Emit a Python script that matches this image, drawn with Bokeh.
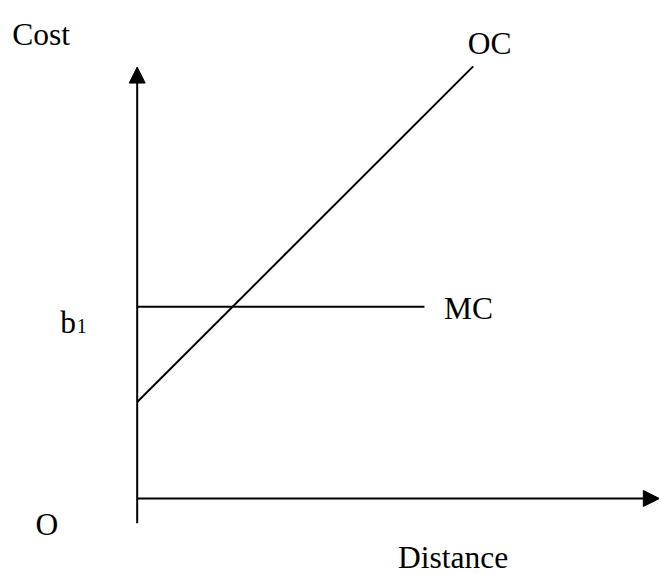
from bokeh.plotting import figure
from bokeh.models import Range1d, Arrow, NormalHead
from bokeh.core.properties import value
from bokeh.embed import file_html
from bokeh.resources import INLINE

# --- data (conceptual units: distance, cost) ---
oc_distance = [0, 10.0]
oc_cost = [2.87, 12.86]
mc_distance = [0, 8.55]
mc_cost = [5.71, 5.71]
x_axis_end = 15.54
y_axis_end = 12.84
y_axis_start = -0.74

FONT = value("Liberation Serif")
FS = "31.5px"

p = figure(width=659, height=574, output_backend="svg", toolbar_location=None,
           x_range=Range1d(-4.068, 15.545), y_range=Range1d(-2.262, 14.821),
           min_border=0, min_border_left=0, min_border_right=0,
           min_border_top=0, min_border_bottom=0)
p.xaxis.visible = False
p.yaxis.visible = False
p.grid.visible = False
p.outline_line_color = None
p.background_fill_color = "white"
p.border_fill_color = "white"

# axes with arrow heads
p.add_layout(Arrow(end=NormalHead(size=16, fill_color="black", line_color="black", line_width=1),
                   x_start=0, y_start=y_axis_start, x_end=0, y_end=y_axis_end,
                   line_width=2, line_color="black"))
p.add_layout(Arrow(end=NormalHead(size=16, fill_color="black", line_color="black", line_width=1),
                   x_start=0, y_start=0, x_end=x_axis_end, y_end=0,
                   line_width=2, line_color="black"))

# curves
p.line(oc_distance, oc_cost, line_width=2, line_color="black")
p.line(mc_distance, mc_cost, line_width=2, line_color="black")

def label(x, y, t, size=FS):
    p.text(x=[x], y=[y], text=[t], text_font=FONT, text_font_size=size,
           text_color="black", text_align="left", text_baseline="alphabetic")

label(-3.72, 13.81, "Cost")
label(9.84, 13.54, "OC")
label(9.13, 5.655, "MC")
label(-2.29, 5.247, "b")
label(-1.80, 5.119, "1", size="20px")
label(-3.03, -0.774, "O")
label(7.76, -1.77, "Distance")

open("out.html", "w").write(file_html(p, INLINE))
